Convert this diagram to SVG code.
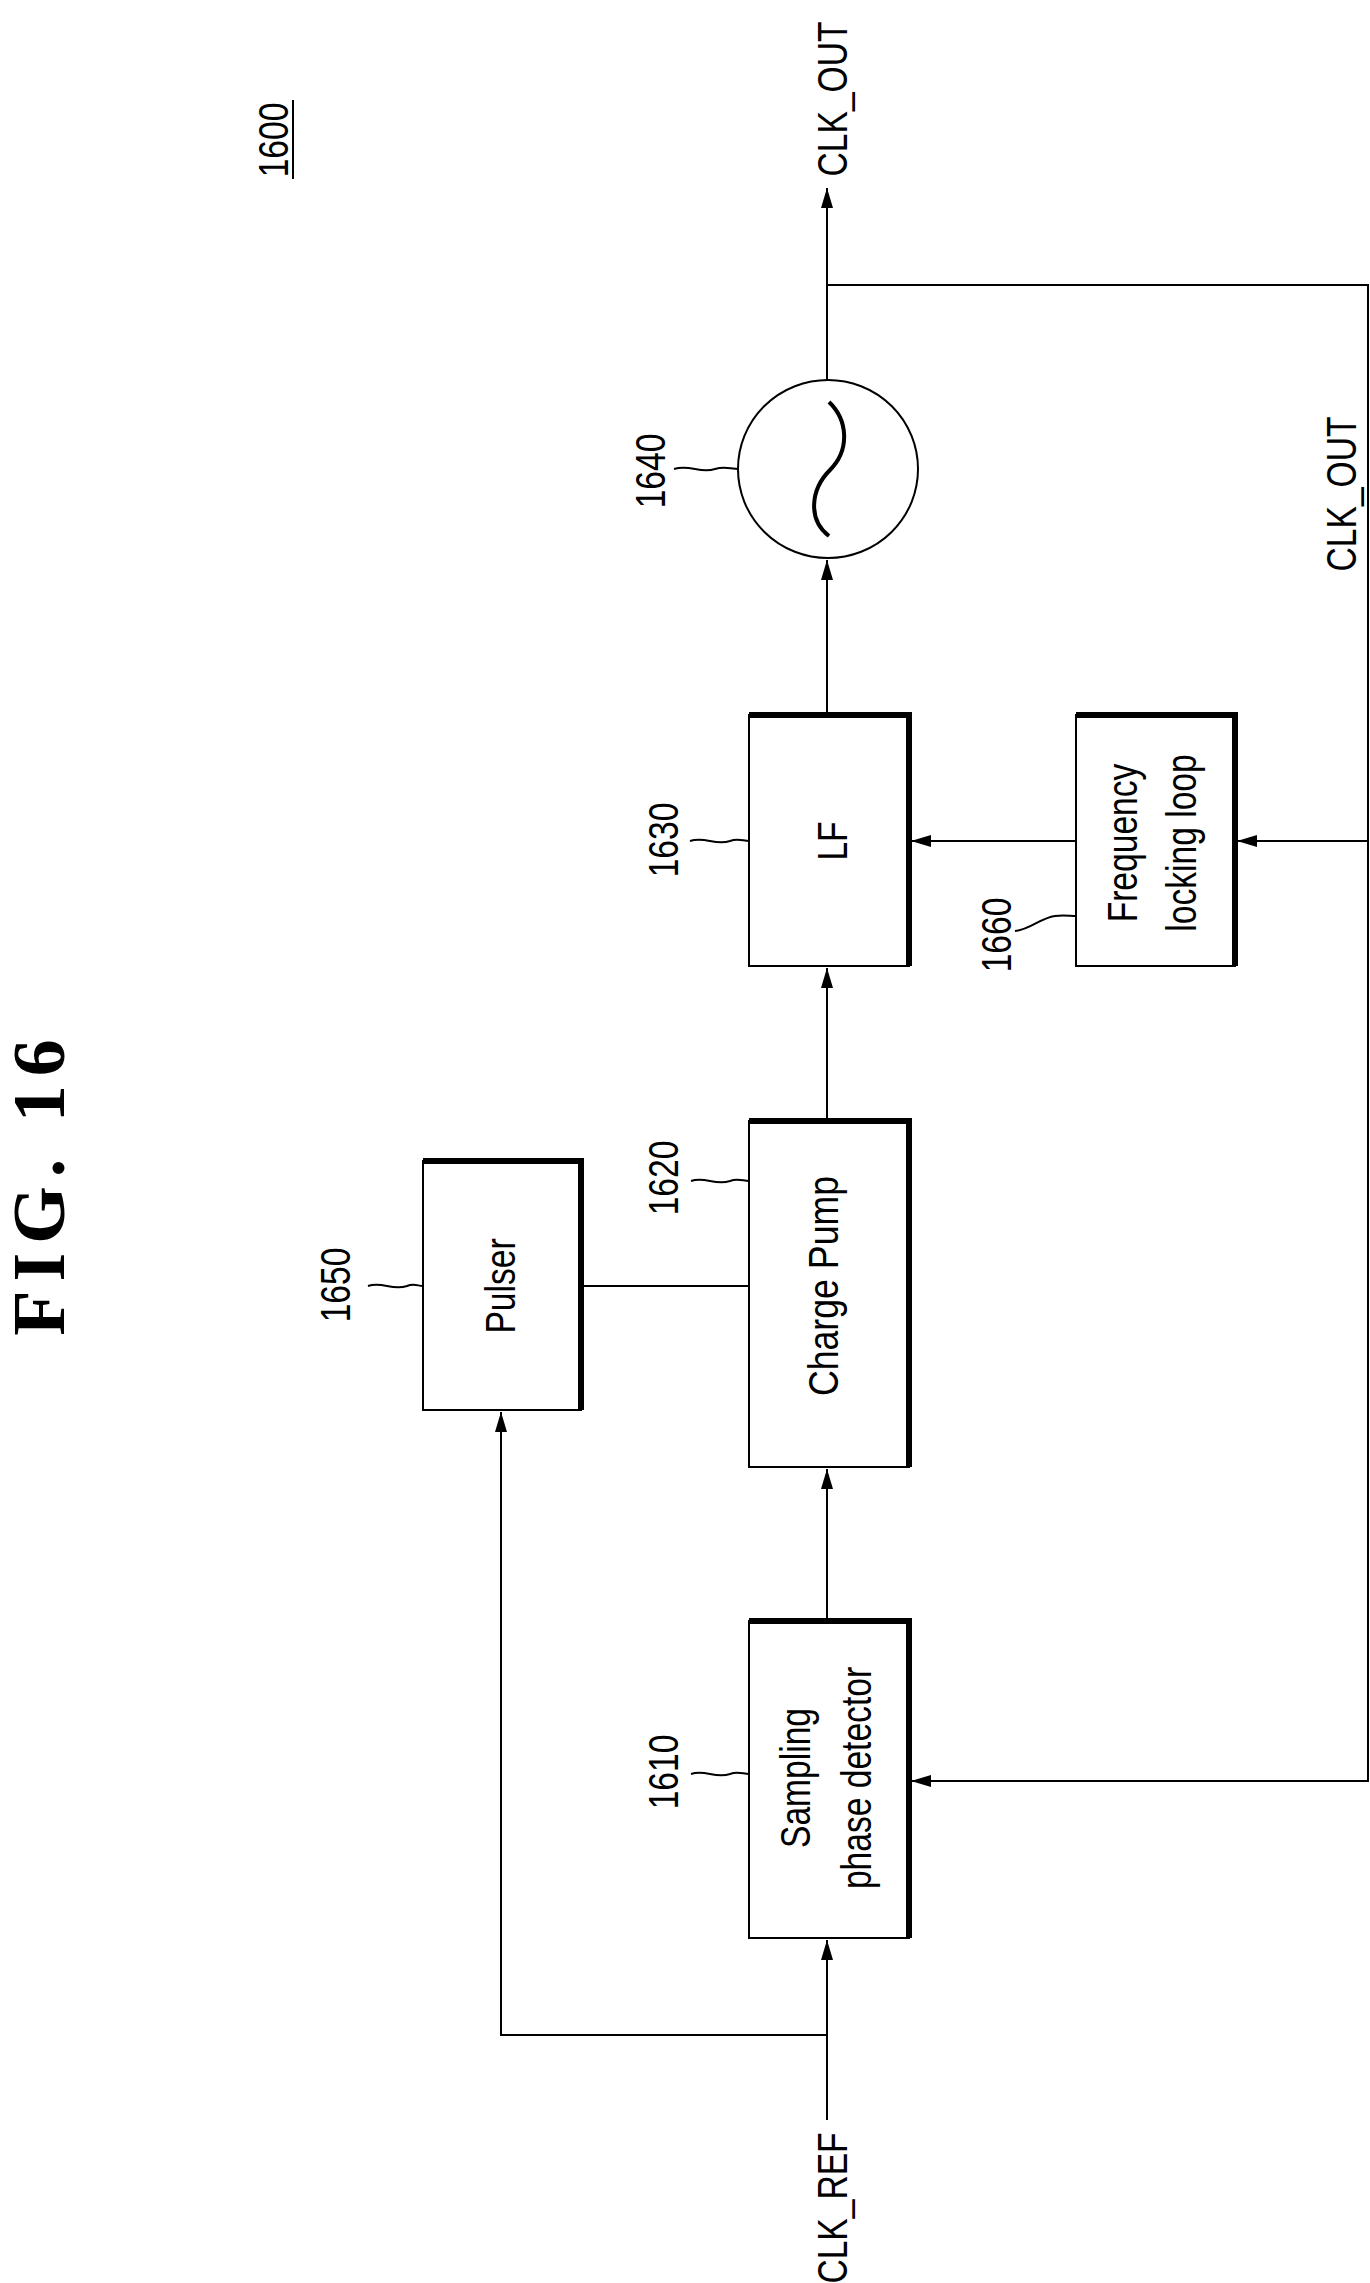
<svg xmlns="http://www.w3.org/2000/svg" width="1370" height="2283" viewBox="0 0 1370 2283">
<style>
.t{font-family:"Liberation Sans",Arial,sans-serif;font-size:42px;fill:#000;text-anchor:middle}
.f{font-family:"Liberation Serif","Times New Roman",serif;font-size:74px;font-weight:bold;fill:#000;text-anchor:middle;letter-spacing:9px}
.w{fill:none;stroke:#000;stroke-width:2}
.b{fill:#fff;stroke:#000;stroke-width:2}
.k{fill:none;stroke:#000;stroke-width:6}
</style>
<defs>
<marker id="a" viewBox="0 0 20 12" refX="20" refY="6" markerWidth="20" markerHeight="12" markerUnits="userSpaceOnUse" orient="auto"><path d="M0,0 L20,6 L0,12 Z" fill="#000"/></marker>
</defs>
<rect width="1370" height="2283" fill="#fff"/>
<text class="f" transform="translate(64,1183) rotate(-90)">FIG. 16</text>
<g id="ref1600"><text class="t" transform="translate(288,140) rotate(-90) scale(0.8,1)">1600</text><line x1="293" y1="100" x2="293" y2="179" class="w"/></g>
<g id="connectors">
<line x1="827" y1="380" x2="827" y2="188" class="w" marker-end="url(#a)"/>
<polyline points="827,285 1368,285 1368,1781 911,1781" class="w" marker-end="url(#a)"/>
<line x1="1368" y1="841" x2="1237" y2="841" class="w" marker-end="url(#a)"/>
<line x1="1076" y1="841" x2="911" y2="841" class="w" marker-end="url(#a)"/>
<line x1="827" y1="715" x2="827" y2="560" class="w" marker-end="url(#a)"/>
<line x1="827" y1="1121" x2="827" y2="968" class="w" marker-end="url(#a)"/>
<line x1="827" y1="1621" x2="827" y2="1469" class="w" marker-end="url(#a)"/>
<line x1="581" y1="1286" x2="749" y2="1286" class="w"/>
<line x1="827" y1="2120" x2="827" y2="1940" class="w" marker-end="url(#a)"/>
<polyline points="827,2035 501,2035 501,1412" class="w" marker-end="url(#a)"/>
<text class="t" transform="translate(847,99) rotate(-90) scale(0.8,1)">CLK_OUT</text>
<text class="t" transform="translate(1356,494) rotate(-90) scale(0.8,1)">CLK_OUT</text>
<text class="t" transform="translate(847,2208) rotate(-90) scale(0.8,1)">CLK_REF</text>
</g>
<g id="n1640">
<ellipse cx="828" cy="469" rx="90" ry="89" class="b"/>
<path d="M829 402 C848 420 850 450 830 470 C810 490 808 520 829 536" fill="none" stroke="#000" stroke-width="4"/>
<path d="M674 469 C690 464 700 474 715 469 C725 466 730 469 739 469" class="w"/>
<text class="t" transform="translate(665,471) rotate(-90) scale(0.8,1)">1640</text>
</g>
<g id="n1630">
<rect x="749" y="715" width="160" height="251" class="b"/>
<polyline points="749,715 909,715 909,966" class="k"/>
<text class="t" transform="translate(847,841) rotate(-90) scale(0.8,1)">LF</text>
<path d="M690 841 C705 836 715 846 730 841 C738 838 743 841 749 841" class="w"/>
<text class="t" transform="translate(678,840) rotate(-90) scale(0.8,1)">1630</text>
</g>
<g id="n1660">
<rect x="1076" y="715" width="159" height="251" class="b"/>
<polyline points="1076,715 1235,715 1235,966" class="k"/>
<text class="t" transform="translate(1137,843) rotate(-90) scale(0.8,1)">Frequency</text>
<text class="t" transform="translate(1196,843) rotate(-90) scale(0.8,1)">locking loop</text>
<path d="M1015 931 C1030 930 1040 918 1055 916 C1063 915 1070 916 1076 916" class="w"/>
<text class="t" transform="translate(1011,935) rotate(-90) scale(0.8,1)">1660</text>
</g>
<g id="n1620">
<rect x="749" y="1121" width="160" height="346" class="b"/>
<polyline points="749,1121 909,1121 909,1467" class="k"/>
<text class="t" transform="translate(838,1286) rotate(-90) scale(0.85,1)">Charge Pump</text>
<path d="M691 1181 C705 1176 715 1186 730 1181 C738 1178 743 1181 749 1181" class="w"/>
<text class="t" transform="translate(678,1178) rotate(-90) scale(0.8,1)">1620</text>
</g>
<g id="n1650">
<rect x="423" y="1161" width="158" height="249" class="b"/>
<polyline points="423,1161 581,1161 581,1410" class="k"/>
<text class="t" transform="translate(515,1286) rotate(-90) scale(0.8,1)">Pulser</text>
<path d="M368 1286 C382 1281 392 1291 407 1286 C414 1283 418 1286 423 1286" class="w"/>
<text class="t" transform="translate(350,1285) rotate(-90) scale(0.8,1)">1650</text>
</g>
<g id="n1610">
<rect x="749" y="1621" width="160" height="317" class="b"/>
<polyline points="749,1621 909,1621 909,1938" class="k"/>
<text class="t" transform="translate(810,1778) rotate(-90) scale(0.8,1)">Sampling</text>
<text class="t" transform="translate(871,1778) rotate(-90) scale(0.8,1)">phase detector</text>
<path d="M691 1774 C705 1769 715 1779 730 1774 C738 1771 743 1774 749 1774" class="w"/>
<text class="t" transform="translate(678,1772) rotate(-90) scale(0.8,1)">1610</text>
</g>
</svg>
